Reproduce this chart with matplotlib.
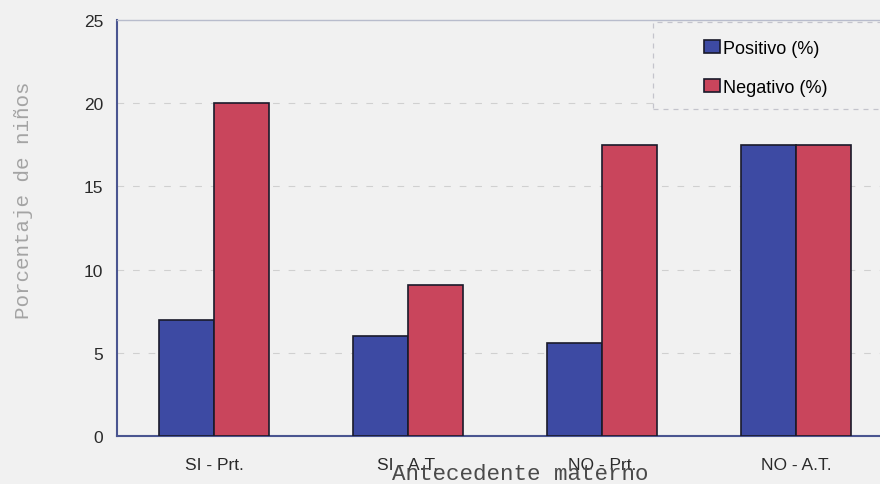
import matplotlib
matplotlib.use("Agg")
import matplotlib.pyplot as plt
from matplotlib.patches import Rectangle
import numpy as np

categories = ["SI - Prt.", "SI - A.T.", "NO - Prt.", "NO - A.T."]
positivo = [7.0, 6.0, 5.6, 17.5]
negativo = [20.0, 9.1, 17.5, 17.5]
series_names = ["Positivo (%)", "Negativo (%)"]
yticks = [0, 5, 10, 15, 20, 25]

blue = "#3d4aa3"
red = "#c9455c"
bg = "#f1f1f1"

fig = plt.figure(figsize=(8.8, 4.85), dpi=100, facecolor=bg)
ax = fig.add_axes([117/880, 48/485, (893-117)/880, (437-21)/485])
ax.set_facecolor(bg)

x = np.arange(len(categories))
w = 0.285
ax.bar(x - w/2, positivo, width=w, color=blue, edgecolor="#1a1a2a", linewidth=1.2,
       label=series_names[0], zorder=3)
ax.bar(x + w/2, negativo, width=w, color=red, edgecolor="#1a1a2a", linewidth=1.2,
       label=series_names[1], zorder=3)

ax.set_xlim(-0.5, 3.5)
ax.set_ylim(0, 25)
ax.set_yticks(yticks)
ax.set_yticklabels([str(t) for t in yticks], fontsize=12.5, family="Liberation Sans", color="#2a2a2a")
ax.set_xticks(x)
ax.set_xticklabels(categories, fontsize=12.5, family="Liberation Sans", color="#2a2a2a")
ax.tick_params(axis="both", length=0)
ax.tick_params(axis="y", pad=10)
ax.tick_params(axis="x", pad=15)

for yv in [5, 10, 15, 20]:
    ax.axhline(yv, color="#d0d0d0", linewidth=0.8, linestyle=(0, (6, 8)), zorder=1)

for side in ["left", "bottom"]:
    ax.spines[side].set_color("#4a5590")
    ax.spines[side].set_linewidth(1.5)
ax.spines["top"].set_color("#b8bccc")
ax.spines["top"].set_linewidth(1.0)
ax.spines["right"].set_visible(False)

ax.set_ylabel("Porcentaje de niños", family="Liberation Mono", fontsize=15,
              color="#a4a4a4")
ax.yaxis.label.set_va("center")
ax.yaxis.label.set_ha("center")
ax.yaxis.set_label_coords(-0.121, 0.57)
ax.set_xlabel("Antecedente materno", family="Liberation Mono", fontsize=16.2, color="#4a4a4a")
ax.xaxis.label.set_va("center")
ax.xaxis.set_label_coords(0.52, -0.090)

# legend frame (dashed, faint)
ax.add_patch(Rectangle((0.691, 0.786), 0.4, 0.209, transform=ax.transAxes,
                       facecolor=bg, edgecolor="#c4c4cc", linewidth=0.9,
                       linestyle=(0, (4, 4)), zorder=4, clip_on=False))

leg = ax.legend(loc="upper left", bbox_to_anchor=(704/880, (485-41)/485),
                bbox_transform=fig.transFigure, frameon=False,
                prop={"family": "Liberation Sans", "size": 13},
                handlelength=0.9, handleheight=0.75, handletextpad=0.15,
                labelspacing=1.2, borderpad=0, borderaxespad=0)
leg.set_zorder(5)

fig.savefig("out.png", dpi=100, facecolor=bg)
